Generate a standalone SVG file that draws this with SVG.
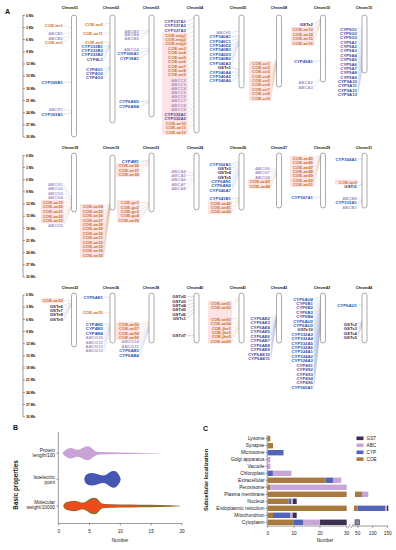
<svg xmlns="http://www.w3.org/2000/svg" width="396" height="550" viewBox="0 0 396 550">
<style>
text{font-family:"Liberation Sans",Arial,sans-serif}
.t text{font-weight:bold;font-size:4.3px;text-anchor:end}
.n{font-weight:bold;font-size:3.8px;text-anchor:middle;fill:#111}
.ax text{font-weight:bold;font-size:3.3px;fill:#111}
.coe{fill:#c8742c}.abc{fill:#a993c9}.cyp{fill:#3b4ca6}.gst{fill:#3e2547}
.chr{fill:#fff;stroke:#444;stroke-width:.45}
.hl{fill:#fde2e6}
.lc,.la,.ly,.lg,.k{fill:none;stroke-width:.3}
.lc{stroke:#e0a27a}.la{stroke:#b9a9d6}.ly{stroke:#8e9ad0}.lg{stroke:#8a7890}
.k{stroke:#222;stroke-width:.45}
.pl{font-size:7px;font-weight:bold;fill:#111}
.sm{font-size:4.7px;fill:#222}
.se{font-size:4.8px;fill:#222;text-anchor:end}
.mid{text-anchor:middle}
.bc{fill:#a87a40}.by{fill:#5464b9}.ba{fill:#c8a7d8}.bg{fill:#3b3050}
</style>

<text class="pl" x="5" y="14">A</text>

<!-- scale axes -->
<g id="scale1" class="ax">
<path class="k" d="M23 15V137M23 15.3h2M23 27.5h2M23 39.6h2M23 51.8h2M23 64h2M23 76.2h2M23 88.3h2M23 100.5h2M23 112.7h2M23 124.8h2M23 137h2"/>
<text x="26" y="16.5">0 Mb</text><text x="26" y="28.7">3 Mb</text><text x="26" y="40.8">6 Mb</text><text x="26" y="53">9 Mb</text><text x="26" y="65.2">12 Mb</text><text x="26" y="77.4">15 Mb</text><text x="26" y="89.5">18 Mb</text><text x="26" y="101.7">21 Mb</text><text x="26" y="113.9">24 Mb</text><text x="26" y="126">27 Mb</text><text x="26" y="138.2">30 Mb</text>
</g>
<g id="scale2" class="ax">
<path class="k" d="M23 155V277M23 155.3h2M23 167.5h2M23 179.6h2M23 191.8h2M23 204h2M23 216.2h2M23 228.3h2M23 240.5h2M23 252.7h2M23 264.8h2M23 277h2"/>
<text x="26" y="156.5">0 Mb</text><text x="26" y="168.7">3 Mb</text><text x="26" y="180.8">6 Mb</text><text x="26" y="193">9 Mb</text><text x="26" y="205.2">12 Mb</text><text x="26" y="217.4">15 Mb</text><text x="26" y="229.5">18 Mb</text><text x="26" y="241.7">21 Mb</text><text x="26" y="253.9">24 Mb</text><text x="26" y="266">27 Mb</text><text x="26" y="278.2">30 Mb</text>
</g>
<g id="scale3" class="ax">
<path class="k" d="M23 295V416.7M23 295h2M23 307.2h2M23 319.3h2M23 331.5h2M23 343.7h2M23 355.9h2M23 368h2M23 380.2h2M23 392.4h2M23 404.5h2M23 416.7h2"/>
<text x="26" y="296.2">0 Mb</text><text x="26" y="308.4">3 Mb</text><text x="26" y="320.5">6 Mb</text><text x="26" y="332.7">9 Mb</text><text x="26" y="344.9">12 Mb</text><text x="26" y="357.1">15 Mb</text><text x="26" y="369.2">18 Mb</text><text x="26" y="381.4">21 Mb</text><text x="26" y="393.6">24 Mb</text><text x="26" y="405.7">27 Mb</text><text x="26" y="417.9">30 Mb</text>
</g>

<!-- highlight boxes behind COE labels -->
<g id="highlights" class="hl">
<rect x="162" y="32.5" width="25.5" height="102"/>
<rect x="249" y="60.8" width="22" height="40"/>
<rect x="291" y="27" width="23" height="18.5"/>
<rect x="41" y="199.8" width="23" height="23.5"/>
<rect x="80" y="204.2" width="24" height="53.5"/>
<rect x="116" y="163.3" width="24" height="13.5"/>
<rect x="117" y="200.2" width="23" height="22.5"/>
<rect x="208" y="200.5" width="24" height="13.6"/>
<rect x="248" y="179" width="23" height="9.5"/>
<rect x="290" y="155.8" width="24" height="31.2"/>
<rect x="335" y="179.5" width="23" height="5"/>
<rect x="41" y="298.2" width="23" height="5"/>
<rect x="116" y="321.8" width="24" height="18"/>
<rect x="208" y="300.8" width="24" height="42.7"/>
</g>

<!-- connectors -->
<g id="connectors">
<path class="lc" d="M63.8 25.7L71.5 28M63.8 42.3L71.5 37M103.8 24.3L110 23M103.8 33.3L110 33M103.8 42.3L110 42.5M186.8 35L194 31M186.8 39.3L194 35.1M186.8 43.7L194 39.3M186.8 48.3L194 43.7M186.8 52.7L194 47.8M186.8 57L194 51.9M186.8 61.3L194 56M186.8 66L194 60.5M186.8 70.3L194 64.6M186.8 74.7L194 68.7M186.8 123.3L194 114.9M186.8 127.7L194 119.1M186.8 132L194 123.2M270.8 63.3L276.5 60M270.8 67.7L276.5 60.5M270.8 71.5L276.5 61M270.8 76L276.5 61.5M270.8 80.5L276.5 62M270.8 84.8L276.5 62.5M270.8 89.2L276.5 63M270.8 93.6L276.5 63.5M270.8 98L276.5 64M313.8 29.3L320.5 20M313.8 34L320.5 21M313.8 38.3L320.5 22M313.8 43L320.5 23"/>
<path class="la" d="M63.8 33.3L71.5 33M63.8 38L71.5 35M63.8 109.3L71.5 111M139.8 31L149 30M139.8 34.5L149 31M139.8 38.3L149 32M139.8 49L149 48M186.8 80L194 73.8M186.8 84.3L194 77.9M186.8 88L194 81.4M186.8 92L194 85.2M186.8 96.7L194 89.6M186.8 100.7L194 93.4M186.8 105L194 97.5M186.8 109.3L194 101.6M231.8 32.3L239 31M313.8 82.7L320.5 79M313.8 87.3L320.5 80"/>
<path class="ly" d="M63.8 82.3L71.5 82.3M63.8 114L71.5 113M103.8 46.7L110 44.5M103.8 50.5L110 45M103.8 54.7L110 45.5M103.8 59.3L110 46M103.8 69.3L110 66M103.8 73.3L110 67M103.8 77.7L110 68M139.8 53.3L149 50M139.8 58.3L149 52M139.8 101.7L149 101M139.8 106.7L149 102M186.8 21.3L194 18M186.8 25.7L194 22.2M186.8 30L194 26.3M186.8 114L194 106M186.8 118.3L194 110.2M231.8 36.7L239 36M231.8 41L239 38M231.8 45.3L239 40M231.8 49.7L239 41M231.8 54L239 42M231.8 58.3L239 43M231.8 63L239 44M231.8 72L239 72M231.8 76.3L239 74M231.8 80.7L239 76M313.8 61L320.5 61M357.8 29L362 27M357.8 33.4L362 29.9M357.8 37.8L362 32.8M357.8 42.1L362 35.7M357.8 46.5L362 38.6M357.8 50.9L362 41.5M357.8 55.3L362 44.4M357.8 59.7L362 47.3M357.8 64L362 50.2M357.8 68.4L362 53.1M357.8 72.8L362 56M357.8 77.2L362 58.9M357.8 81.6L362 61.8M357.8 85.9L362 64.7M357.8 90.3L362 67.6M357.8 94.7L362 70.5"/>
<path class="lg" d="M231.8 67.7L239 70M313.8 24.7L320.5 19"/>
<!-- row 2 -->
<path class="la" d="M63.8 184.7L71.5 198M63.8 188.7L71.5 199M63.8 193.3L71.5 200M63.8 197.3L71.5 201M63.8 225.3L71.5 207M186.8 171L194 174M186.8 175.3L194 175.5M186.8 179.7L194 177M186.8 184L194 178.5M186.8 188.3L194 180M270.8 168.3L276.5 170M270.8 172.7L276.5 171M270.8 177L276.5 172M357.8 198.3L362 199M357.8 207L362 201"/>
<path class="lc" d="M63.8 202.3L71.5 202M63.8 206.7L71.5 203M63.8 211.3L71.5 204M63.8 216L71.5 205M63.8 220.7L71.5 206M103.8 206.7L110 203M103.8 211.1L110 203.5M103.8 215.5L110 204M103.8 220L110 204.5M103.8 224.4L110 205M103.8 228.8L110 205.5M103.8 233.2L110 206M103.8 237.6L110 206.5M103.8 242.1L110 207M103.8 246.5L110 207.5M103.8 250.9L110 208M103.8 255.3L110 208.5M139.8 165.7L149 161M139.8 170L149 162M139.8 174.3L149 163M139.8 202.7L149 202M139.8 207L149 203M139.8 211.3L149 204M139.8 215.7L149 205M139.8 220L149 206M231.8 203L239 199M231.8 207.3L239 200M231.8 211.7L239 201M270.8 181.5L276.5 173M270.8 186L276.5 174M313.8 158.3L320.5 155M313.8 162.7L320.5 155.5M313.8 167L320.5 156M313.8 171.4L320.5 156.5M313.8 175.8L320.5 157M313.8 180.2L320.5 157.5M313.8 184.5L320.5 158M357.8 182L362 182"/>
<path class="ly" d="M139.8 161.7L149 160M231.8 164L239 162M231.8 181.3L239 170M231.8 185.7L239 172M231.8 190L239 174M231.8 198.5L239 198M313.8 197.3L320.5 197.3M357.8 159L362 159M357.8 202.7L362 200"/>
<path class="lg" d="M231.8 168.3L239 164M231.8 172.7L239 166M231.8 177L239 168M357.8 186.3L362 184"/>
<!-- row 3 -->
<path class="lc" d="M63.8 300.7L71.5 300M103.8 312.7L110 312.7M139.8 324.3L149 322M139.8 328.7L149 323M139.8 333L149 324M139.8 337.3L149 325M231.8 303.3L239 298M231.8 307.7L239 299M231.8 319.3L239 318M231.8 323.7L239 320M231.8 328L239 322M231.8 332.3L239 324M231.8 336.7L239 326M231.8 341L239 328"/>
<path class="lg" d="M63.8 306L71.5 302M63.8 310.3L71.5 303M63.8 314.7L71.5 304M63.8 319L71.5 305M186.8 296.7L194 297M186.8 301L194 300M186.8 305.3L194 303M186.8 309.7L194 306M186.8 314L194 309M186.8 318.3L194 312M186.8 335.7L194 335.7M313.8 329.9L320.5 307.5M357.8 324.3L362 321M357.8 328.7L362 322M357.8 333L362 323M357.8 337.3L362 324"/>
<path class="la" d="M103.8 337.7L110 327M103.8 342L110 328M103.8 346.3L110 329M103.8 350.7L110 330M139.8 341.7L149 326M139.8 346L149 327"/>
<path class="ly" d="M103.8 297.3L110 297M103.8 324.3L110 324M103.8 328.7L110 325M103.8 333L110 326M139.8 350.5L149 328M139.8 355L149 329M270.8 318.3L276.5 315M270.8 322.8L276.5 315.6M270.8 327.3L276.5 316.2M270.8 331.7L276.5 316.8M270.8 336.2L276.5 317.4M270.8 340.7L276.5 318M270.8 345.2L276.5 318.6M270.8 349.7L276.5 319.2M270.8 354.1L276.5 319.8M270.8 358.6L276.5 320.4M313.8 299L320.5 297M313.8 303.4L320.5 298.5M313.8 307.8L320.5 300M313.8 312.2L320.5 301.5M313.8 316.6L320.5 303M313.8 321.1L320.5 304.5M313.8 325.5L320.5 306M313.8 334.3L320.5 309M313.8 338.7L320.5 310.5M313.8 343.1L320.5 312M313.8 347.5L320.5 313.5M313.8 351.9L320.5 315M313.8 356.3L320.5 316.5M313.8 360.7L320.5 318M313.8 365.2L320.5 319.5M313.8 369.6L320.5 321M313.8 374L320.5 322.5M313.8 378.4L320.5 324M313.8 382.8L320.5 325.5M313.8 387.2L320.5 327M357.8 305L362 305"/>
</g>

<!-- ROW 1 -->
<g id="chrom01"><text class="n" x="70" y="8.6">Chrom01</text><rect class="chr" x="71.5" y="15" width="5" height="122" rx="2.5"/>
<g class="t"><text class="coe" x="63" y="27.2">COE-be1</text><text class="abc" x="63" y="34.8">ABCB1</text><text class="abc" x="63" y="39.5">ABCB2</text><text class="coe" x="63" y="43.8">COE-ae1</text><text class="cyp" x="63" y="83.8">CYP305B1</text><text class="abc" x="63" y="110.8">ABCF1</text><text class="cyp" x="63" y="115.5">CYP303A1</text></g></g>

<g id="chrom02"><text class="n" x="111" y="8.6">Chrom02</text><rect class="chr" x="110" y="15" width="5" height="108" rx="2.5"/>
<g class="t"><text class="coe" x="103" y="25.8">COE-ae2</text><text class="coe" x="103" y="34.8">COE-ae11</text><text class="coe" x="103" y="43.8">COE-ae3</text><text class="cyp" x="103" y="48.2">CYP333B1</text><text class="cyp" x="103" y="52">CYP333B3</text><text class="cyp" x="103" y="56.2">CYP333B2</text><text class="cyp" x="103" y="60.8">CYP4L1</text><text class="cyp" x="103" y="70.8">CYP4G1</text><text class="cyp" x="103" y="74.8">CYP4G2</text><text class="cyp" x="103" y="79.2">CYP4G3</text></g></g>

<g id="chrom03"><text class="n" x="151" y="8.6">Chrom03</text><rect class="chr" x="149" y="15" width="5" height="102" rx="2.5"/>
<g class="t"><text class="abc" x="139" y="32.5">ABCB3</text><text class="abc" x="139" y="36">ABCB4</text><text class="abc" x="139" y="39.8">ABCB5</text><text class="abc" x="139" y="50.5">ABCG4</text><text class="cyp" x="139" y="54.8">CYP306A1</text><text class="cyp" x="139" y="59.8">CYP18A1</text><text class="cyp" x="139" y="103.2">CYP6AN3</text><text class="cyp" x="139" y="108.2">CYP6AN4</text></g></g>

<g id="chrom04"><text class="n" x="195" y="8.6">Chrom04</text><rect class="chr" x="194" y="15" width="5" height="118" rx="2.5"/>
<g class="t"><text class="cyp" x="186" y="22.8">CYP337A1</text><text class="cyp" x="186" y="27.2">CYP337A2</text><text class="cyp" x="186" y="31.5">CYP337A3</text><text class="coe" x="186" y="36.5">COE-mig1</text><text class="coe" x="186" y="40.8">COE-mig2</text><text class="coe" x="186" y="45.2">COE-mig3</text><text class="coe" x="186" y="49.8">COE-ae3</text><text class="coe" x="186" y="54.2">COE-ae4</text><text class="coe" x="186" y="58.5">COE-ae5</text><text class="coe" x="186" y="62.8">COE-ae6</text><text class="coe" x="186" y="67.5">COE-ae7</text><text class="coe" x="186" y="71.8">COE-ae8</text><text class="coe" x="186" y="76.2">COE-ae9</text><text class="abc" x="186" y="81.5">ABCC2</text><text class="abc" x="186" y="85.8">ABCC3</text><text class="abc" x="186" y="89.5">ABCC4</text><text class="abc" x="186" y="93.5">ABCC5</text><text class="abc" x="186" y="98.2">ABCC6</text><text class="abc" x="186" y="102.2">ABCC7</text><text class="abc" x="186" y="106.5">ABCC8</text><text class="abc" x="186" y="110.8">ABCC9</text><text class="cyp" x="186" y="115.5">CYP332A1</text><text class="cyp" x="186" y="119.8">CYP332A2</text><text class="coe" x="186" y="124.8">COE-ae10</text><text class="coe" x="186" y="129.2">COE-ae11</text><text class="coe" x="186" y="133.5">COE-ae12</text></g></g>

<g id="chrom05"><text class="n" x="238" y="8.6">Chrom05</text><rect class="chr" x="239" y="15" width="5" height="73" rx="2.5"/>
<g class="t"><text class="abc" x="231" y="33.8">ABCH1</text><text class="cyp" x="231" y="38.2">CYP340A1</text><text class="cyp" x="231" y="42.5">CYP340C1</text><text class="cyp" x="231" y="46.8">CYP340D2</text><text class="cyp" x="231" y="51.2">CYP340B3</text><text class="cyp" x="231" y="55.5">CYP340D3</text><text class="cyp" x="231" y="59.8">CYP340B2</text><text class="cyp" x="231" y="64.5">CYP340A3</text><text class="gst" x="231" y="69.2">GSTe1</text><text class="cyp" x="231" y="73.5">CYP340A4</text><text class="cyp" x="231" y="77.8">CYP340A5</text><text class="cyp" x="231" y="82.2">CYP340A6</text></g></g>

<g id="chrom08"><text class="n" x="279" y="8.6">Chrom08</text><rect class="chr" x="276.5" y="15" width="5" height="72" rx="2.5"/>
<g class="t"><text class="coe" x="270" y="64.8">COE-ce1</text><text class="coe" x="270" y="69.2">COE-ce2</text><text class="coe" x="270" y="73">COE-ce3</text><text class="coe" x="270" y="77.5">COE-ce4</text><text class="coe" x="270" y="82">COE-ce5</text><text class="coe" x="270" y="86.3">COE-ce6</text><text class="coe" x="270" y="90.7">COE-ce7</text><text class="coe" x="270" y="95.1">COE-ce8</text><text class="coe" x="270" y="99.5">COE-ce9</text></g></g>

<g id="chrom10"><text class="n" x="322" y="8.6">Chrom10</text><rect class="chr" x="320.5" y="15" width="5" height="67" rx="2.5"/>
<g class="t"><text class="gst" x="313" y="26.2">GSTe2</text><text class="coe" x="313" y="30.8">COE-ae13</text><text class="coe" x="313" y="35.5">COE-ae14</text><text class="coe" x="313" y="39.8">COE-ae15</text><text class="coe" x="313" y="44.5">COE-ae16</text><text class="cyp" x="313" y="62.5">CYP49A1</text><text class="abc" x="313" y="84.2">ABCA2</text><text class="abc" x="313" y="88.8">ABCA3</text></g></g>

<g id="chrom15"><text class="n" x="364" y="8.6">Chrom15</text><rect class="chr" x="362" y="15" width="5" height="58" rx="2.5"/>
<g class="t"><text class="cyp" x="357" y="30.5">CYP9G1</text><text class="cyp" x="357" y="34.9">CYP9G2</text><text class="cyp" x="357" y="39.3">CYP9G3</text><text class="cyp" x="357" y="43.6">CYP9A1</text><text class="cyp" x="357" y="48">CYP9A2</text><text class="cyp" x="357" y="52.4">CYP9A3</text><text class="cyp" x="357" y="56.8">CYP9A4</text><text class="cyp" x="357" y="61.2">CYP9A5</text><text class="cyp" x="357" y="65.5">CYP9A6</text><text class="cyp" x="357" y="69.9">CYP9A7</text><text class="cyp" x="357" y="74.3">CYP9A8</text><text class="cyp" x="357" y="78.7">CYP9A9</text><text class="cyp" x="357" y="83.1">CYP9A10</text><text class="cyp" x="357" y="87.4">CYP9A11</text><text class="cyp" x="357" y="91.8">CYP9A12</text><text class="cyp" x="357" y="96.2">CYP9A13</text></g></g>

<!-- ROW 2 -->
<g id="chrom18"><text class="n" x="70" y="148.6">Chrom18</text><rect class="chr" x="71.5" y="153" width="5" height="59" rx="2.5"/>
<g class="t"><text class="abc" x="63" y="186.2">ABCG1</text><text class="abc" x="63" y="190.2">ABCG2</text><text class="abc" x="63" y="194.8">ABCG3</text><text class="abc" x="63" y="198.8">ABCG4</text><text class="coe" x="63" y="203.8">COE-ae19</text><text class="coe" x="63" y="208.2">COE-ae20</text><text class="coe" x="63" y="212.8">COE-ae21</text><text class="coe" x="63" y="217.5">COE-ae22</text><text class="coe" x="63" y="222.2">COE-ae23</text><text class="abc" x="63" y="226.8">ABCG5</text></g></g>

<g id="chrom19"><text class="n" x="111" y="148.6">Chrom19</text><rect class="chr" x="110" y="155" width="5" height="55" rx="2.5"/>
<g class="t"><text class="coe" x="103" y="208.2">COE-ae24</text><text class="coe" x="103" y="212.6">COE-ae25</text><text class="coe" x="103" y="217">COE-ae26</text><text class="coe" x="103" y="221.5">COE-ae27</text><text class="coe" x="103" y="225.9">COE-ae28</text><text class="coe" x="103" y="230.3">COE-ae29</text><text class="coe" x="103" y="234.7">COE-ae30</text><text class="coe" x="103" y="239.1">COE-ae31</text><text class="coe" x="103" y="243.6">COE-ae32</text><text class="coe" x="103" y="248">COE-ae33</text><text class="coe" x="103" y="252.4">COE-ae34</text><text class="coe" x="103" y="256.8">COE-ae35</text></g></g>

<g id="chrom23"><text class="n" x="151" y="148.6">Chrom23</text><rect class="chr" x="149" y="153" width="5" height="59" rx="2.5"/>
<g class="t"><text class="cyp" x="139" y="163.2">CYP4M1</text><text class="coe" x="139" y="167.2">COE-ae36</text><text class="coe" x="139" y="171.5">COE-ae37</text><text class="coe" x="139" y="175.8">COE-ae38</text><text class="coe" x="139" y="204.2">COE-gc1</text><text class="coe" x="139" y="208.5">COE-gc2</text><text class="coe" x="139" y="212.8">COE-gc3</text><text class="coe" x="139" y="217.2">COE-gc4</text><text class="coe" x="139" y="221.5">COE-ae39</text></g></g>

<g id="chrom24"><text class="n" x="195" y="148.6">Chrom24</text><rect class="chr" x="194" y="153" width="5" height="57" rx="2.5"/>
<g class="t"><text class="abc" x="186" y="172.5">ABCA4</text><text class="abc" x="186" y="176.8">ABCA5</text><text class="abc" x="186" y="181.2">ABCA6</text><text class="abc" x="186" y="185.5">ABCA7</text><text class="abc" x="186" y="189.8">ABCA8</text></g></g>

<g id="chrom26"><text class="n" x="238" y="148.6">Chrom26</text><rect class="chr" x="239" y="153" width="5" height="57" rx="2.5"/>
<g class="t"><text class="cyp" x="231" y="165.5">CYP302A1</text><text class="gst" x="231" y="169.8">GSTe3</text><text class="gst" x="231" y="174.2">GSTe4</text><text class="gst" x="231" y="178.5">GSTe5</text><text class="cyp" x="231" y="182.8">CYP6AN1</text><text class="cyp" x="231" y="187.2">CYP6AN2</text><text class="cyp" x="231" y="191.5">CYP340A7</text><text class="cyp" x="231" y="200">CYP341B1</text><text class="coe" x="231" y="204.5">COE-ae40</text><text class="coe" x="231" y="208.8">COE-ae41</text><text class="coe" x="231" y="213.2">COE-ae42</text></g></g>

<g id="chrom27"><text class="n" x="279" y="148.6">Chrom27</text><rect class="chr" x="276.5" y="153" width="5" height="55" rx="2.5"/>
<g class="t"><text class="abc" x="270" y="169.8">ABCG6</text><text class="abc" x="270" y="174.2">ABCG7</text><text class="abc" x="270" y="178.5">ABCG8</text><text class="coe" x="270" y="183">COE-ae43</text><text class="coe" x="270" y="187.5">COE-ae44</text></g></g>

<g id="chrom29"><text class="n" x="322" y="148.6">Chrom29</text><rect class="chr" x="320.5" y="153" width="5" height="55" rx="2.5"/>
<g class="t"><text class="coe" x="313" y="159.8">COE-ae45</text><text class="coe" x="313" y="164.2">COE-ae46</text><text class="coe" x="313" y="168.5">COE-ae47</text><text class="coe" x="313" y="172.9">COE-ae48</text><text class="coe" x="313" y="177.3">COE-ae49</text><text class="coe" x="313" y="181.7">COE-ae50</text><text class="coe" x="313" y="186">COE-ae51</text><text class="cyp" x="313" y="198.8">CYP307A1</text></g></g>

<g id="chrom31"><text class="n" x="364" y="148.6">Chrom31</text><rect class="chr" x="362" y="153" width="5" height="55" rx="2.5"/>
<g class="t"><text class="cyp" x="357" y="160.5">CYP304A1</text><text class="coe" x="357" y="183.5">COE-be2</text><text class="gst" x="357" y="187.8">GSTt1</text><text class="abc" x="357" y="199.8">ABCB6</text><text class="cyp" x="357" y="204.2">CYP315A1</text><text class="abc" x="357" y="208.5">ABCB7</text></g></g>

<!-- ROW 3 -->
<g id="chrom32"><text class="n" x="70" y="289">Chrom32</text><rect class="chr" x="71.5" y="293" width="5" height="54" rx="2.5"/>
<g class="t"><text class="coe" x="63" y="302.2">COE-ae52</text><text class="gst" x="63" y="307.5">GSTe6</text><text class="gst" x="63" y="311.8">GSTe7</text><text class="gst" x="63" y="316.2">GSTe8</text><text class="gst" x="63" y="320.5">GSTe9</text></g></g>

<g id="chrom36"><text class="n" x="111" y="289">Chrom36</text><rect class="chr" x="110" y="293" width="5" height="50" rx="2.5"/>
<g class="t"><text class="cyp" x="103" y="298.8">CYP6AE1</text><text class="coe" x="103" y="314.2">COE-ae55</text><text class="cyp" x="103" y="325.8">CYP4M2</text><text class="cyp" x="103" y="330.2">CYP4M3</text><text class="cyp" x="103" y="334.5">CYP4M4</text><text class="abc" x="103" y="339.2">ABCG10</text><text class="abc" x="103" y="343.5">ABCG11</text><text class="abc" x="103" y="347.8">ABCG12</text><text class="abc" x="103" y="352.2">ABCG13</text></g></g>

<g id="chrom38"><text class="n" x="151" y="289">Chrom38</text><rect class="chr" x="149" y="293" width="5" height="50" rx="2.5"/>
<g class="t"><text class="coe" x="139" y="325.8">COE-ae56</text><text class="coe" x="139" y="330.2">COE-ae57</text><text class="coe" x="139" y="334.5">COE-ae58</text><text class="coe" x="139" y="338.8">COE-ae59</text><text class="abc" x="139" y="343.2">ABCG14</text><text class="abc" x="139" y="347.5">ABCG15</text><text class="cyp" x="139" y="352">CYP6AB3</text><text class="cyp" x="139" y="356.5">CYP6AB4</text></g></g>

<g id="chrom40"><text class="n" x="195" y="289">Chrom40</text><rect class="chr" x="194" y="293" width="5" height="50" rx="2.5"/>
<g class="t"><text class="gst" x="186" y="298.2">GSTd2</text><text class="gst" x="186" y="302.5">GSTd3</text><text class="gst" x="186" y="306.8">GSTd4</text><text class="gst" x="186" y="311.2">GSTd5</text><text class="gst" x="186" y="315.5">GSTd6</text><text class="gst" x="186" y="319.8">GSTs1</text><text class="gst" x="186" y="337.2">GSTd7</text></g></g>

<g id="chrom41"><text class="n" x="238" y="289">Chrom41</text><rect class="chr" x="239" y="293" width="5" height="50" rx="2.5"/>
<g class="t"><text class="coe" x="231" y="304.8">COE-ae61</text><text class="coe" x="231" y="309.2">COE-ae62</text><text class="coe" x="231" y="320.8">COE-ae63</text><text class="coe" x="231" y="325.2">COE-ae64</text><text class="coe" x="231" y="329.5">COE-jhe1</text><text class="coe" x="231" y="333.8">COE-jhe2</text><text class="coe" x="231" y="338.2">COE-jhe3</text><text class="coe" x="231" y="342.5">COE-ae65</text></g></g>

<g id="chrom42"><text class="n" x="279" y="289">Chrom42</text><rect class="chr" x="276.5" y="293" width="5" height="50" rx="2.5"/>
<g class="t"><text class="cyp" x="270" y="319.8">CYP6AE2</text><text class="cyp" x="270" y="324.3">CYP6AE3</text><text class="cyp" x="270" y="328.8">CYP6AE4</text><text class="cyp" x="270" y="333.2">CYP6AE5</text><text class="cyp" x="270" y="337.7">CYP6AE6</text><text class="cyp" x="270" y="342.2">CYP6AE7</text><text class="cyp" x="270" y="346.7">CYP6AE8</text><text class="cyp" x="270" y="351.2">CYP6AE9</text><text class="cyp" x="270" y="355.6">CYP6AE10</text><text class="cyp" x="270" y="360.1">CYP6AE11</text></g></g>

<g id="chrom43"><text class="n" x="322" y="289">Chrom43</text><rect class="chr" x="320.5" y="293" width="5" height="50" rx="2.5"/>
<g class="t"><text class="cyp" x="313" y="300.5">CYP6AU4</text><text class="cyp" x="313" y="304.9">CYP6B1</text><text class="cyp" x="313" y="309.3">CYP6B2</text><text class="cyp" x="313" y="313.7">CYP6B3</text><text class="cyp" x="313" y="318.1">CYP6B4</text><text class="cyp" x="313" y="322.6">CYP6AU2</text><text class="cyp" x="313" y="327">CYP6AU3</text><text class="gst" x="313" y="331.4">GSTe10</text><text class="cyp" x="313" y="335.8">CYP332A3</text><text class="cyp" x="313" y="340.2">CYP332A4</text><text class="cyp" x="313" y="344.6">CYP332A5</text><text class="cyp" x="313" y="349">CYP332A6</text><text class="cyp" x="313" y="353.4">CYP324A1</text><text class="cyp" x="313" y="357.8">CYP324A2</text><text class="cyp" x="313" y="362.2">CYP324A3</text><text class="cyp" x="313" y="366.7">CYP4S1</text><text class="cyp" x="313" y="371.1">CYP4S2</text><text class="cyp" x="313" y="375.5">CYP4S3</text><text class="cyp" x="313" y="379.9">CYP4S4</text><text class="cyp" x="313" y="384.3">CYP4S5</text><text class="cyp" x="313" y="388.7">CYP365A1</text></g></g>

<g id="chrom44"><text class="n" x="364" y="289">Chrom44</text><rect class="chr" x="362" y="293" width="5" height="50" rx="2.5"/>
<g class="t"><text class="cyp" x="357" y="306.5">CYP6AU1</text><text class="gst" x="357" y="325.8">GSTs2</text><text class="gst" x="357" y="330.2">GSTs3</text><text class="gst" x="357" y="334.5">GSTs4</text><text class="gst" x="357" y="338.8">GSTs5</text></g></g>

<!-- PANEL B -->
<g id="panelB">
<text class="pl" x="13" y="429.5">B</text>
<text transform="translate(18 485) rotate(-90)" text-anchor="middle" font-weight="bold" font-size="6.3" fill="#111">Basic properties</text>
<path d="M62.5 453.3L63.5 451.8L65 450.5L67 449.1L69 448.3L71 448.1L73 448.5L75 449.3L77 449.8L79 449.7L81 448.8L83 447.7L85 446.8L87 446.3L89 446.5L91 447.5L93 449.3L95 450.9L97 451.7L100 452.1L110 452.3L120 452.5L130 452.7L145 452.9L160 453.15L160 453.45L145 453.7L130 453.9L120 454.1L110 454.3L100 454.5L97 454.9L95 455.7L93 457.3L91 459.1L89 460.1L87 460.3L85 459.8L83 458.9L81 457.8L79 456.9L77 456.8L75 457.3L73 458.1L71 458.5L69 458.3L67 457.5L65 456.1L63.5 454.8Z" fill="#c9a3d6"/>
<path d="M84.3 478.8L85 476.3L86.5 474.5L88.5 473.5L91 473.1L94 473.3L97 474.1L100 475.1L103 475.5L105 475.3L107 474.3L109 472.8L111 471.5L113 470.9L115 471.1L117 472.3L118.5 474.3L119.7 476.3L120.5 478.3L120.7 479.3L120.5 480.3L119.7 482.3L118.5 484.3L117 486.3L115 487.5L113 487.7L111 487.1L109 485.8L107 484.3L105 483.3L103 483.1L100 483.5L97 484.5L94 485.3L91 485.5L88.5 485.1L86.5 484.1L85 482.3L84.3 479.8Z" fill="#4556b4"/>
<path d="M63.3 505.5L64.5 503.5L66 502.2L69 501.4L72 501L75 500.8L78 501.5L81 502.4L84 502.6L87 501L90 498.8L93 497.7L96 498L98 499.5L100 502L102 503.5L105 504L110 504.2L120 504.5L130 504.6L140 504.8L150 504.8L160 505L170 505.2L180 505.8L180 506.2L170 506.8L160 507L150 507.2L140 507.2L130 507.4L120 507.5L110 507.8L105 508L102 508.5L100 510L98 512.5L96 514L93 514.3L90 513.2L87 511L84 509.4L81 509.6L78 510.5L75 511.2L72 511L69 510.6L66 509.8L64.5 508.5L63.3 506.5Z" fill="#8c6d2a"/>
<path d="M64.5 505.2L66 503.3L69 502.5L72 502.2L75 502L78 502.6L81 503.3L84 503.5L87 502.2L90 500.5L93 499.6L96 499.8L98 501L100 503L102 504.2L105 504.6L110 504.8L120 505L130 505.2L140 505.6L140 506.4L130 506.8L120 507L110 507.2L105 507.4L102 507.8L100 509L98 511L96 512.2L93 512.4L90 511.5L87 509.8L84 508.5L81 508.7L78 509.4L75 510L72 509.8L69 509.5L66 508.7L64.5 506.8Z" fill="#ee4a1c"/>
<path class="k" d="M58.3 432V523.5H182M58.7 523.5v2M89.5 523.5v2M120.3 523.5v2M151.2 523.5v2M182 523.5v2M56.5 453.3h1.8M56.5 479.3h1.8M56.5 506h1.8"/>
<text class="se" x="55" y="452.3">Protein</text><text class="se" x="55" y="457.2">length/100</text>
<text class="se" x="55" y="478.9">Isoelectric</text><text class="se" x="55" y="483.6">point</text>
<text class="se" x="55" y="504.3">Molecular</text><text class="se" x="55" y="509.2">weight/10000</text>
<g class="sm mid"><text x="58.7" y="532.5">0</text><text x="89.5" y="532.5">5</text><text x="120.3" y="532.5">10</text><text x="151.2" y="532.5">15</text><text x="182" y="532.5">20</text><text x="120" y="541.5">Number</text></g>
</g>

<!-- PANEL C -->
<g id="panelC">
<text class="pl" x="203" y="431">C</text>
<text transform="translate(208 480) rotate(-90)" text-anchor="middle" font-weight="bold" font-size="5.6" fill="#111">Subcellular localization</text>
<g class="se"><text x="264.5" y="440.4">Lysome</text><text x="264.5" y="447.4">Synapse</text><text x="264.5" y="454.4">Microsome</text><text x="264.5" y="461.4">Golgi apparatus</text><text x="264.5" y="468">Vacuole</text><text x="264.5" y="475">Chloroplast</text><text x="264.5" y="482">Extracellular</text><text x="264.5" y="489">Peroxisome</text><text x="264.5" y="496">Plasma membrane</text><text x="264.5" y="503">Nucleus</text><text x="264.5" y="510">Endoplasmic reticulum</text><text x="264.5" y="517">Mitochondrion</text><text x="264.5" y="524">Cytoplasm</text></g>
<g id="bars">
<rect class="bc" x="267.7" y="436" width="2.6" height="5.4"/>
<rect class="bc" x="267.7" y="443" width="5.3" height="5.4"/>
<rect class="by" x="267.7" y="450" width="15.8" height="5.4"/>
<rect class="ba" x="267.7" y="457" width="2.6" height="5.4"/>
<rect class="ba" x="267.7" y="463.6" width="2.6" height="5.4"/>
<rect class="by" x="267.7" y="470.6" width="5.2" height="5.4"/><rect class="ba" x="272.9" y="470.6" width="18.5" height="5.4"/>
<rect class="bc" x="267.7" y="477.6" width="57.9" height="5.4"/><rect class="by" x="325.6" y="477.6" width="7.9" height="5.4"/><rect class="ba" x="333.5" y="477.6" width="7.8" height="5.4"/>
<rect class="bc" x="267.7" y="484.6" width="2.6" height="5.4"/><rect class="ba" x="270.3" y="484.6" width="76.4" height="5.4"/>
<rect class="bc" x="267.7" y="491.6" width="79" height="5.4"/><rect class="bc" x="355" y="491.6" width="7" height="5.4"/><rect class="ba" x="362" y="491.6" width="6.3" height="5.4"/>
<rect class="bc" x="267.7" y="498.6" width="21" height="5.4"/><rect class="by" x="288.7" y="498.6" width="2.7" height="5.4"/><rect class="ba" x="291.4" y="498.6" width="1.6" height="5.4"/><rect class="bg" x="293" y="498.6" width="3.7" height="5.4"/>
<rect class="bc" x="267.7" y="505.6" width="79" height="5.4"/><rect class="bc" x="354" y="505.6" width="3.5" height="5.4"/><rect class="by" x="357.5" y="505.6" width="28" height="5.4"/><rect class="ba" x="385.5" y="505.6" width="1.5" height="5.4"/><rect class="bg" x="387" y="505.6" width="1.3" height="5.4"/>
<rect class="bc" x="267.7" y="512.6" width="5.3" height="5.4"/><rect class="by" x="273" y="512.6" width="17" height="5.4"/><rect class="ba" x="290" y="512.6" width="2.7" height="5.4"/><rect class="bg" x="292.7" y="512.6" width="4" height="5.4"/>
<rect class="bc" x="267.7" y="519.6" width="26.3" height="5.4"/><rect class="by" x="294" y="519.6" width="9.5" height="5.4"/><rect class="ba" x="303.5" y="519.6" width="16.5" height="5.4"/><rect class="bg" x="320" y="519.6" width="26.7" height="5.4"/>
<rect x="355" y="519.8" width="4.5" height="5" fill="#8e86a0" stroke="#3b3050" stroke-width=".6"/>
</g>
<path class="k" d="M267.2 435V526H346.7M353 526H388M348 528l2.5-4M351 528l2.5-4M267.7 526v1.8M294 526v1.8M320 526v1.8M346.7 526v1.8M357.7 526v1.8M372.7 526v1.8M387.7 526v1.8M265.5 438.7h1.7M265.5 445.7h1.7M265.5 452.7h1.7M265.5 459.7h1.7M265.5 466.3h1.7M265.5 473.3h1.7M265.5 480.3h1.7M265.5 487.3h1.7M265.5 494.3h1.7M265.5 501.3h1.7M265.5 508.3h1.7M265.5 515.3h1.7M265.5 522.3h1.7"/>
<g class="sm mid"><text x="267.7" y="535">0</text><text x="294" y="535">10</text><text x="320" y="535">20</text><text x="346.7" y="535">30</text><text x="357.7" y="535">50</text><text x="372.7" y="535">100</text><text x="387.7" y="535">150</text><text x="325" y="541.5">Number</text></g>
<g id="legend">
<rect class="bg" x="356.5" y="436.5" width="7" height="3.6"/><text class="sm" x="366.5" y="439.9">GST</text>
<rect class="ba" x="356.5" y="443.5" width="7" height="3.6"/><text class="sm" x="366.5" y="446.9">ABC</text>
<rect class="by" x="356.5" y="450.5" width="7" height="3.6"/><text class="sm" x="366.5" y="453.9">CYP</text>
<rect class="bc" x="356.5" y="457.3" width="7" height="3.6"/><text class="sm" x="366.5" y="460.7">COE</text>
</g>
</g>
</svg>
